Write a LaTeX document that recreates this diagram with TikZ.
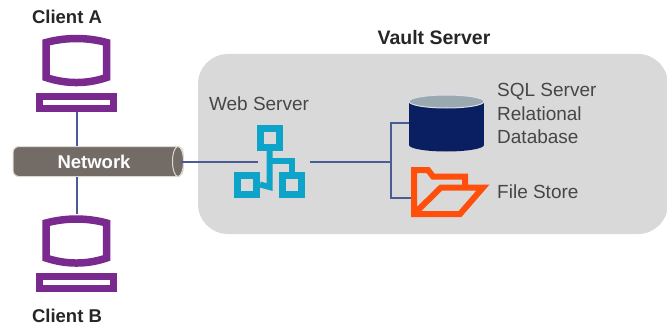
\documentclass[tikz,border=0pt]{standalone}
\usepackage{fontspec}
\setmainfont{Liberation Sans}
\usetikzlibrary{shapes.geometric,positioning}
\definecolor{clientpurple}{RGB}{122,42,142}
\definecolor{pipegray}{RGB}{115,107,102}
\definecolor{pipeedge}{RGB}{222,218,210}
\definecolor{linkblue}{RGB}{74,92,150}
\definecolor{vaultgray}{RGB}{217,217,217}
\definecolor{webcyan}{RGB}{14,163,201}
\definecolor{dbnavy}{RGB}{10,31,98}
\definecolor{dbtop}{RGB}{154,168,176}
\definecolor{storeorange}{RGB}{255,79,10}
\definecolor{labelgray}{RGB}{70,70,70}

\begin{document}
\begin{tikzpicture}[
    x=1pt, y=-1pt,
    title/.style={font=\bfseries\fontsize{18.5}{22}\selectfont, text=black!85},
    label/.style={font=\fontsize{19}{23.5}\selectfont, text=labelgray, align=left},
    link/.style={draw=linkblue, line width=2pt},
    screen/.style={draw=clientpurple, line width=7.5pt, fill=white, line join=miter},
    basebox/.style={rectangle, draw=clientpurple, fill=white, line width=7.5pt, inner sep=0pt, minimum width=74pt, minimum height=12pt},
    webbox/.style={rectangle, draw=webcyan, fill=vaultgray, line width=7pt, inner sep=0pt, minimum size=19pt},
    pipebody/.style={rectangle, rounded corners=6pt, draw=pipeedge, fill=pipegray, line width=1pt, inner sep=0pt, minimum width=170pt, minimum height=30pt},
    pipeend/.style={ellipse, draw=pipeedge, fill=pipegray, line width=1pt, inner sep=0pt, minimum width=11pt, minimum height=30pt},
    dbbody/.style={rectangle, fill=dbnavy, inner sep=0pt, minimum width=75pt, minimum height=44pt},
    dbcap/.style={ellipse, inner sep=0pt, minimum width=75pt, minimum height=13pt}
]
    \useasboundingbox (0,0) rectangle (667,329);

    % vault background
    \fill[vaultgray, rounded corners=30pt] (198,54) rectangle (668,234);

    % nodes
    \node[basebox] (basea) at (76.5,102.5) {};
    \node[basebox] (baseb) at (76.5,282.5) {};
    \node[inner sep=0pt, minimum width=64pt, minimum height=52pt] (screenb) at (76.5,240.5) {};
    \node[pipebody] (network) at (98,161.5) {};
    \node[pipeend] (pipecap) at (178,161.5) {};
    \node[inner sep=0pt, minimum width=52pt, minimum height=72pt] (web) at (284,161.5) {};
    \node[webbox] (webtop) at (269.5,137.5) {};
    \node[webbox] (webleft) at (247,184.5) {};
    \node[webbox] (webright) at (292,184.5) {};
    \node[dbcap, fill=dbnavy] (dbbottom) at (446.5,145) {};
    \node[dbbody] (database) at (446.5,123) {};
    \node[dbcap, fill=dbtop, draw=white!85!dbnavy, line width=1pt] (dbcover) at (446.5,101.5) {};
    \coordinate (storeport) at (411,198);
    \coordinate (branch) at (391,161.5);

    \node[title] (clienta) at (67,17) {Client A};
    \node[title] (clientb) at (67,316) {Client B};
    \node[title, font=\bfseries\fontsize{19.5}{22}\selectfont] (vault) at (434,38) {Vault Server};
    \node[title, text=white] (netlabel) at (94,162) {Network};
    \node[label] (weblabel) at (259,104) {Web Server};
    \node[label, anchor=north west, inner sep=0pt] (sqllabel) at (497,83.5) {SQL Server\\Relational\\Database};
    \node[label, anchor=west, inner sep=0pt] (storelabel) at (497,191.5) {File Store};

    % screens
    \foreach \dy in {0,180.5} {
        \draw[screen, yshift=-\dy pt] (46,42.5) .. controls (66,37.2) and (87,37.2) .. (106.5,42.5)
            -- (106.5,77.5) .. controls (87,84.2) and (66,84.2) .. (46,77.5) -- cycle;
    }

    % web server tree
    \draw[webcyan, line width=6pt] (webtop.south) -- (269.5,187) -- (webleft.east);
    \draw[webcyan, line width=6pt] (269.5,161) -- (292,161) -- (webright.north);

    % folder
    \draw[storeorange, line width=6pt, line join=miter, miter limit=3] (465,187) -- (465,176.5) -- (433,176.5) -- (428,170) -- (414,170)
        -- (414,214) -- (460,214) -- (483,187.5) -- (441,187.5) -- (415,213);

    % links
    \draw[link] (basea.south) -- (basea.south |- network.north);
    \draw[link] (screenb.north |- network.south) -- (screenb.north);
    \draw[link] ([xshift=-3pt]pipecap.east) -- (web.west);
    \draw[link] (web.east) -- (branch);
    \draw[link] (database.west) -| (branch) |- (storeport);
\end{tikzpicture}
\end{document}
